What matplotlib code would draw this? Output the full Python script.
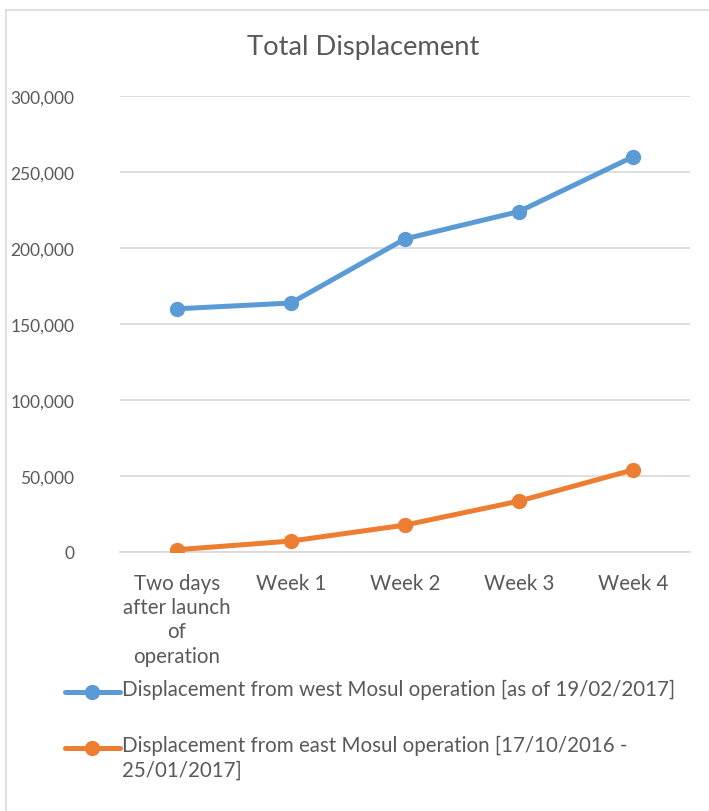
import matplotlib
matplotlib.use("Agg")
import matplotlib.pyplot as plt
from matplotlib.lines import Line2D
from matplotlib.patches import Rectangle
from matplotlib.ticker import FuncFormatter

plt.rcParams['font.family'] = ['Lato', 'DejaVu Sans']

# data
categories = ["Two days\nafter launch\nof\noperation", "Week 1", "Week 2", "Week 3", "Week 4"]
west_mosul = [160000, 163800, 206000, 224000, 260000]
east_mosul = [1500, 7200, 17700, 33500, 54000]
series_labels = ["Displacement from west Mosul operation [as of 19/02/2017]",
                 "Displacement from east Mosul operation [17/10/2016 -\n25/01/2017]"]
y_ticks = [0, 50000, 100000, 150000, 200000, 250000, 300000]

BLUE = "#5B9BD5"
ORANGE = "#ED7D31"
TXT = "#595959"
GRID = "#D9D9D9"

fig = plt.figure(figsize=(7.09, 8.12), dpi=100)
fig.patch.set_facecolor("white")

# chart border
fig.add_artist(Rectangle((6 / 709, -0.01), 1.0, 1 - 11 / 812 + 0.01,
                         transform=fig.transFigure, fill=False,
                         edgecolor=GRID, linewidth=1.2))

ax = fig.add_axes([120 / 709, 1 - 553 / 812, 570 / 709, 456 / 812])
x = range(len(categories))
ax.plot(x, west_mosul, color=BLUE, lw=3.6, marker="o", ms=10, solid_capstyle="round", zorder=3)
ax.plot(x, east_mosul, color=ORANGE, lw=3.6, marker="o", ms=10, solid_capstyle="round", zorder=3)

ax.set_xlim(-0.5, len(categories) - 0.5)
ax.set_ylim(0, 300000)
ax.set_yticks(y_ticks)
ax.yaxis.set_major_formatter(FuncFormatter(lambda v, p: f"{int(v):,}"))
ax.set_xticks(list(x))
ax.set_xticklabels(categories, linespacing=1.27)
ax.grid(axis="y", color=GRID, lw=1.2)
ax.set_axisbelow(True)
for s in ["top", "right", "left"]:
    ax.spines[s].set_visible(False)
ax.spines["bottom"].set_color(GRID)
ax.spines["bottom"].set_linewidth(1.2)
ax.tick_params(axis="both", length=0, colors=TXT)
ax.tick_params(axis="y", pad=33, labelsize=12.5)
ax.tick_params(axis="x", pad=15, labelsize=14.8)
for t in ax.get_xticklabels():
    t.set_verticalalignment("top")

fig.text(363 / 709, 1 - 48 / 812, "Total Displacement", ha="center", va="center",
         fontsize=19.7, color=TXT)

# legend drawn by hand so the marker sits on the first line of wrapped text
legend_rows = [(BLUE, series_labels[0], 693), (ORANGE, series_labels[1], 749)]
for col, lab, ypx in legend_rows:
    yf = 1 - ypx / 812
    fig.add_artist(Line2D([65 / 709, 120 / 709], [yf, yf], transform=fig.transFigure,
                          color=col, lw=3.6, solid_capstyle="round"))
    fig.add_artist(Line2D([92 / 709], [yf], transform=fig.transFigure, color=col,
                          marker="o", ms=10))
    fig.text(122 / 709, yf + 13 / 812, lab, ha="left", va="top", fontsize=14.8,
             color=TXT, linespacing=1.3)

fig.savefig("out.png", dpi=100)
